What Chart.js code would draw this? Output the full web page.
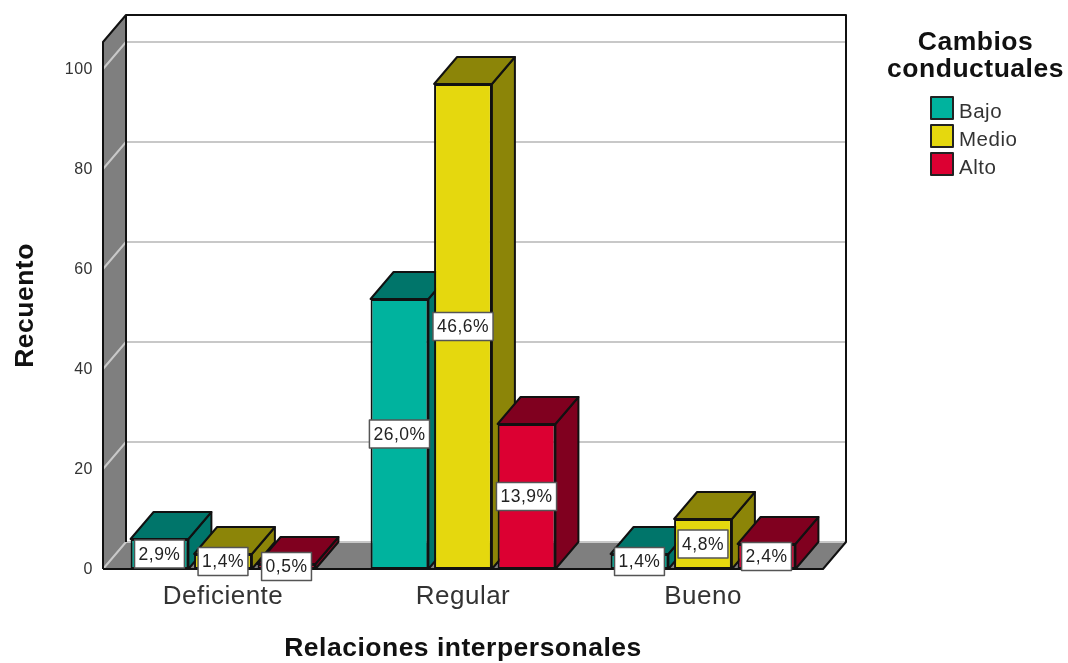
<!DOCTYPE html>
<html lang="es">
<head>
    <meta charset="UTF-8">
    <title>Recuento</title>
    <style>
        html, body { margin: 0; padding: 0; background: #fff; }
        canvas { display: block; }
    </style>
</head>
<body>
    <canvas id="myChart" width="1068" height="663"></canvas>

    <script src="https://cdn.jsdelivr.net/npm/chart.js@4/dist/chart.umd.min.js"></script>
    <script>
        var categories = ["Deficiente", "Regular", "Bueno"];
        var seriesNames = ["Bajo", "Medio", "Alto"];
        var bajoValues = [6, 54, 3];
        var medioValues = [3, 97, 10];
        var altoValues = [1, 29, 5];
        var bajoLabels = ["2,9%", "26,0%", "1,4%"];
        var medioLabels = ["1,4%", "46,6%", "4,8%"];
        var altoLabels = ["0,5%", "13,9%", "2,4%"];
        var yTicks = [0, 20, 40, 60, 80, 100];
        var legendTitle = ["Cambios", "conductuales"];

        var frontColors = ["#00B39E", "#E5D80E", "#DC0032"];
        var darkColors = ["#00756A", "#8C8508", "#80001F"];
        var pointLabels = [bajoLabels, medioLabels, altoLabels];

        var depthX = 23;
        var depthY = 27;
        var lineColor = "#111";

        function poly(ctx, pts, fill, stroke, lw) {
            ctx.beginPath();
            ctx.moveTo(pts[0][0], pts[0][1]);
            for (var i = 1; i < pts.length; i++) ctx.lineTo(pts[i][0], pts[i][1]);
            ctx.closePath();
            if (fill) { ctx.fillStyle = fill; ctx.fill(); }
            if (stroke) { ctx.strokeStyle = stroke; ctx.lineWidth = lw; ctx.stroke(); }
        }

        // the reference text is a bit wider than Liberation Sans at the same height
        var spacingPlugin = {
            id: "spacing",
            beforeDraw: function (chart) {
                chart.ctx.letterSpacing = "0.5px";
                chart.ctx.lineJoin = "round";
            }
        };

        // back wall, left wall, floor and the shifted grid
        var wallsPlugin = {
            id: "walls",
            beforeDatasetsDraw: function (chart) {
                var ctx = chart.ctx, a = chart.chartArea, y = chart.scales.y;
                var bx = a.left + depthX, by = a.bottom - depthY, bt = a.top - depthY, br = a.right + depthX;
                ctx.save();
                poly(ctx, [[bx, bt], [br, bt], [br, by], [bx, by]], "#fff");
                poly(ctx, [[a.left, a.top], [bx, bt], [bx, by], [a.left, a.bottom]], "#7F7F7F");
                poly(ctx, [[a.left, a.bottom], [bx, by], [br, by], [a.right, a.bottom]], "#7F7F7F");

                ctx.strokeStyle = "#C8C8C8";
                ctx.lineWidth = 2;
                yTicks.forEach(function (v) {
                    var py = y.getPixelForValue(v);
                    ctx.beginPath();
                    ctx.moveTo(a.left, py);
                    ctx.lineTo(bx, py - depthY);
                    ctx.lineTo(br, py - depthY);
                    ctx.stroke();
                });

                ctx.strokeStyle = lineColor;
                ctx.beginPath();
                ctx.moveTo(a.left, a.bottom);
                ctx.lineTo(a.left, a.top);
                ctx.lineTo(bx, bt);
                ctx.lineTo(br, bt);
                ctx.lineTo(br, by);
                ctx.lineTo(a.right, a.bottom);
                ctx.lineTo(a.left, a.bottom);
                ctx.moveTo(bx, bt);
                ctx.lineTo(bx, by);
                ctx.stroke();

                // sides and tops of the bars, the front faces are the library's own
                chart.data.datasets.forEach(function (ds, di) {
                    chart.getDatasetMeta(di).data.forEach(function (bar) {
                        var l = bar.x - bar.width / 2, r = bar.x + bar.width / 2;
                        poly(ctx, [[r, bar.y], [r + depthX, bar.y - depthY], [r + depthX, bar.base - depthY], [r, bar.base]], darkColors[di], lineColor, 2);
                        poly(ctx, [[l, bar.y], [l + depthX, bar.y - depthY], [r + depthX, bar.y - depthY], [r, bar.y]], darkColors[di], lineColor, 2);
                    });
                });
                ctx.restore();
            }
        };

        var labelsPlugin = {
            id: "boxLabels",
            afterDatasetsDraw: function (chart) {
                var ctx = chart.ctx;
                ctx.save();
                ctx.font = "17.5px 'Liberation Sans'";
                ctx.textAlign = "center";
                ctx.textBaseline = "middle";
                chart.data.datasets.forEach(function (ds, di) {
                    chart.getDatasetMeta(di).data.forEach(function (bar, i) {
                        var text = pointLabels[di][i];
                        var w = ctx.measureText(text).width + 8, h = 28;
                        var cy = (bar.y + bar.base) / 2;
                        ctx.fillStyle = "#fff";
                        ctx.fillRect(bar.x - w / 2, cy - h / 2, w, h);
                        ctx.strokeStyle = "#555";
                        ctx.lineWidth = 1.5;
                        ctx.strokeRect(bar.x - w / 2, cy - h / 2, w, h);
                        ctx.fillStyle = "#222";
                        ctx.fillText(text, bar.x, cy + 1);
                    });
                });
                ctx.restore();
            }
        };

        var legendPlugin = {
            id: "sideLegend",
            afterDraw: function (chart) {
                var ctx = chart.ctx;
                ctx.save();
                ctx.textAlign = "center";
                ctx.textBaseline = "middle";
                ctx.fillStyle = "#111";
                ctx.font = "bold 26.5px 'Liberation Sans'";
                legendTitle.forEach(function (line, i) {
                    ctx.fillText(line, 975.5, 43 + i * 27);
                });
                ctx.textAlign = "left";
                ctx.font = "20.5px 'Liberation Sans'";
                chart.data.datasets.forEach(function (ds, i) {
                    var top = 97 + i * 28;
                    ctx.fillStyle = frontColors[i];
                    ctx.fillRect(931, top, 22, 22);
                    ctx.strokeStyle = "#222";
                    ctx.lineWidth = 2;
                    ctx.strokeRect(931, top, 22, 22);
                    ctx.fillStyle = "#333";
                    ctx.fillText(ds.label, 959, top + 15);
                });
                ctx.restore();
            }
        };

        var seriesValues = [bajoValues, medioValues, altoValues];

        new Chart(document.getElementById("myChart"), {
            type: "bar",
            data: {
                labels: categories,
                datasets: seriesNames.map(function (name, i) {
                    return {
                        label: name,
                        data: seriesValues[i],
                        backgroundColor: frontColors[i],
                        borderColor: lineColor,
                        borderWidth: 2,
                        borderSkipped: false,
                        categoryPercentage: 0.794,
                        barPercentage: 0.91
                    };
                })
            },
            options: {
                responsive: false,
                animation: false,
                layout: { padding: { top: 42, right: 245, left: 0, bottom: 0 } },
                plugins: { legend: { display: false }, tooltip: { enabled: false } },
                scales: {
                    x: {
                        grid: { display: false, drawTicks: false },
                        border: { display: false },
                        ticks: {
                            color: "#333",
                            padding: 12,
                            font: { family: "'Liberation Sans'", size: 26 },
                            maxRotation: 0
                        },
                        title: {
                            display: true,
                            text: "Relaciones interpersonales",
                            color: "#111",
                            padding: 0,
                            font: { family: "'Liberation Sans'", size: 26.5, weight: "bold", lineHeight: 1.1 }
                        },
                        afterFit: function (scale) { scale.height = 94; }
                    },
                    y: {
                        min: 0,
                        max: 105.4,
                        grid: { display: false, drawTicks: false },
                        border: { display: false },
                        ticks: {
                            color: "#333",
                            padding: 10,
                            labelOffset: 1,
                            font: { family: "'Liberation Sans'", size: 16 }
                        },
                        afterBuildTicks: function (scale) {
                            scale.ticks = yTicks.map(function (v) { return { value: v }; });
                        },
                        title: {
                            display: true,
                            text: "Recuento",
                            color: "#111",
                            padding: { top: 10, bottom: 10 },
                            font: { family: "'Liberation Sans'", size: 26.5, weight: "bold" }
                        },
                        afterFit: function (scale) { scale.width = 103; }
                    }
                }
            },
            plugins: [spacingPlugin, wallsPlugin, labelsPlugin, legendPlugin]
        });
    </script>
</body>
</html>
